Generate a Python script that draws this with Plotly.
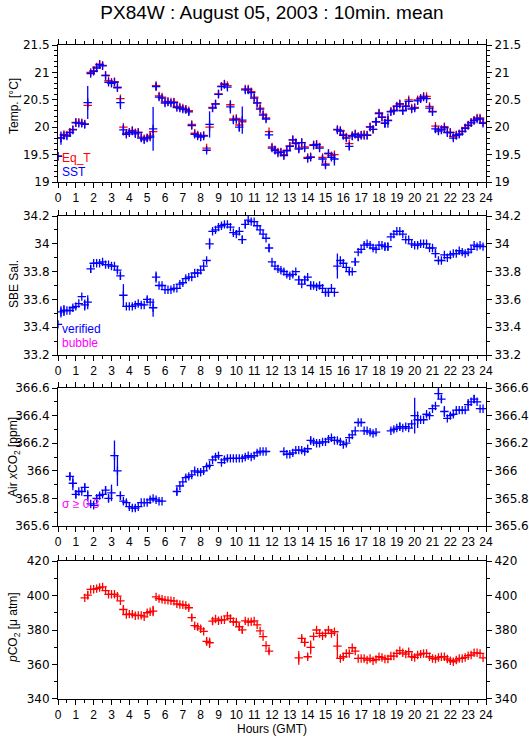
import plotly.graph_objects as go

# ---------------- data (10-minute means, k = 0..143) ----------------
hours = [k / 6 for k in range(144)]

sst = [
19.47,19.80,19.85,19.84,19.90,19.95,20.08,20.07,20.07,20.05,
20.45,20.98,21.02,21.08,21.14,21.12,20.94,20.82,20.80,20.82,
20.72,20.45,19.95,19.87,19.90,19.93,19.88,19.90,19.80,19.77,
19.80,19.82,19.97,20.74,20.55,20.53,20.44,20.46,20.44,20.45,
20.36,20.35,20.33,20.32,20.28,20.03,19.87,19.84,19.82,19.84,
19.58,20.05,20.35,20.42,20.60,20.74,20.78,20.73,20.37,20.13,
20.14,20.00,20.13,20.68,20.68,20.63,20.53,20.44,20.33,20.22,
20.15,19.86,19.62,19.58,19.53,19.54,19.48,19.57,19.65,19.77,
19.70,19.60,19.72,19.62,19.43,19.45,19.67,19.68,19.62,19.42,
19.31,19.52,19.45,19.42,19.95,19.93,19.85,19.80,19.65,19.84,
19.87,19.82,19.85,19.85,19.85,20.00,19.96,20.10,20.25,20.18,
20.07,20.12,20.28,20.30,20.38,20.42,20.30,20.38,20.47,20.33,
20.35,20.48,20.52,20.55,20.52,20.35,20.28,19.97,19.93,19.95,
19.99,19.90,19.90,19.80,19.85,19.87,19.92,19.98,20.03,20.08,
20.12,20.15,20.15,20.07]

eq_t = [
19.47,19.81,19.87,19.86,19.91,19.96,20.09,20.09,20.08,20.06,
20.40,21.00,21.03,21.10,21.15,21.13,20.95,20.85,20.82,20.83,
20.73,20.52,20.00,19.89,19.91,19.94,19.90,19.91,19.82,19.79,
19.81,19.84,19.92,20.76,20.57,20.55,20.46,20.47,20.46,20.46,
20.38,20.37,20.35,20.33,20.30,20.05,19.89,19.86,19.83,19.85,
19.62,20.00,20.36,20.43,20.61,20.75,20.79,20.76,20.41,20.15,
20.16,20.04,20.10,20.70,20.70,20.65,20.55,20.45,20.35,20.24,
20.17,19.92,19.64,19.59,19.55,19.55,19.50,19.58,19.66,19.77,
19.72,19.62,19.72,19.64,19.45,19.46,19.68,19.69,19.64,19.45,
19.33,19.52,19.48,19.50,19.96,19.94,19.87,19.82,19.70,19.85,
19.88,19.83,19.86,19.87,19.86,20.01,19.96,20.10,20.26,20.19,
20.08,20.13,20.29,20.31,20.39,20.43,20.31,20.39,20.50,20.35,
20.36,20.50,20.53,20.56,20.56,20.38,20.29,20.02,19.95,19.96,
20.01,19.91,19.91,19.83,19.86,19.88,19.93,19.99,20.04,20.09,
20.13,20.17,20.17,20.09]

sst_err = {1: 0.12, 10: 0.3, 21: 0.12, 22: 0.1, 32: 0.4, 33: 0.07, 44: 0.05,
           51: 0.24, 58: 0.12, 61: 0.08, 62: 0.25, 71: 0.07, 80: 0.08, 81: 0.06,
           89: 0.07, 93: 0.12, 94: 0.05, 98: 0.07, 107: 0.07, 110: 0.08,
           111: 0.13, 117: 0.08, 127: 0.08}

sal = [
33.42,33.51,33.52,33.52,33.52,33.54,33.55,33.57,33.62,33.56,
33.58,33.82,33.86,33.86,33.86,33.87,33.85,33.85,33.84,33.84,
33.81,33.77,33.63,33.55,33.55,33.55,33.56,33.57,33.56,33.56,
33.60,33.58,33.54,33.76,33.70,33.70,33.67,33.67,33.67,33.68,
33.68,33.71,33.72,33.75,33.76,33.76,33.79,33.79,33.81,33.84,
33.88,34.00,34.09,34.10,34.12,34.13,34.14,34.14,34.12,34.08,
34.07,34.09,34.03,34.14,34.17,34.16,34.16,34.13,34.10,34.07,
34.04,33.97,33.87,33.84,33.82,33.81,33.80,33.78,33.77,33.78,
33.80,33.74,33.71,33.74,33.76,33.70,33.70,33.69,33.70,33.68,
33.65,33.65,33.68,33.65,33.84,33.88,33.86,33.83,33.80,33.80,
33.87,33.94,33.96,33.99,34.00,33.99,33.97,33.96,33.99,33.99,
33.98,33.98,34.05,34.07,34.09,34.09,34.07,34.03,34.03,34.00,
33.99,33.99,34.00,34.00,34.00,33.97,33.97,33.93,33.88,33.88,
33.92,33.90,33.92,33.93,33.93,33.95,33.94,33.93,33.94,33.96,
33.99,33.98,33.99,33.98]

sal_err = {1: 0.04, 2: 0.04, 9: 0.04, 10: 0.05, 11: 0.03, 20: 0.02, 21: 0.03,
           22: 0.08, 30: 0.02, 32: 0.065, 33: 0.04, 51: 0.04, 62: 0.03, 63: 0.03,
           71: 0.03, 81: 0.03, 83: 0.03, 85: 0.03, 90: 0.02, 91: 0.03, 94: 0.09,
           98: 0.02, 100: 0.03, 110: 0.03, 111: 0.03, 121: 0.02, 127: 0.03}

xco2 = [
None,None,None,None,365.96,365.91,365.83,365.85,365.85,365.88,
365.82,365.76,365.75,365.80,365.82,365.83,365.86,365.80,365.84,366.11,
366.00,365.82,365.78,365.77,365.74,365.73,365.73,365.74,365.77,365.77,
365.77,365.79,365.80,365.79,365.78,365.78,None,None,None,None,
365.85,365.89,365.92,365.95,365.96,365.97,366.00,365.99,365.99,366.00,
366.03,366.04,366.08,366.10,366.11,366.06,366.08,366.09,366.09,366.09,
366.09,366.09,366.09,366.10,366.11,366.10,366.11,366.13,366.14,366.14,
366.14,None,None,None,None,None,366.14,366.12,366.12,366.13,
366.15,366.15,366.15,366.14,366.16,366.22,366.21,366.20,366.20,366.21,
366.21,366.23,366.24,366.22,366.22,366.21,366.19,366.20,366.24,366.26,
366.29,366.35,366.35,366.29,366.29,366.28,366.27,366.28,None,None,
None,None,366.29,366.30,366.31,366.32,366.31,366.32,366.31,366.34,
366.40,366.37,366.37,366.37,366.41,366.40,366.45,366.47,366.56,366.52,
366.43,366.38,366.40,366.41,366.44,366.44,366.44,366.44,366.48,366.50,
366.52,366.50,366.45,366.45]

xco2_err = {4: 0.03, 5: 0.05, 6: 0.03, 9: 0.03, 10: 0.04, 13: 0.03, 16: 0.03,
            17: 0.03, 18: 0.06, 19: 0.11, 20: 0.11, 21: 0.03, 26: 0.02, 40: 0.03,
            85: 0.03, 115: 0.03, 120: 0.13, 121: 0.06, 128: 0.04, 129: 0.03,
            130: 0.04, 138: 0.04, 140: 0.03}

pco2 = [
None,None,None,None,None,None,None,None,None,398.6,
400.2,403.5,403.6,404.0,404.6,405.0,402.8,400.7,400.7,400.7,
399.6,396.9,391.9,389.0,389.2,389.2,388.3,388.5,388.5,387.6,
390.0,390.6,391.0,399.2,398.2,397.8,397.3,397.2,397.0,396.7,
395.2,394.8,394.6,394.2,392.9,387.2,382.5,381.8,380.7,379.2,
373.4,372.6,385.2,386.4,385.4,385.9,385.9,388.2,386.7,384.8,
384.6,381.9,380.1,385.3,384.6,384.8,385.3,383.0,379.5,376.2,
371.0,367.8,None,None,None,None,None,None,None,None,
None,363.9,375.2,372.8,364.5,369.9,376.3,380.0,378.0,376.7,
378.0,380.0,378.0,379.0,370.7,363.5,364.5,366.4,366.4,369.7,
367.8,363.5,363.5,363.5,362.6,363.5,362.2,363.0,364.5,364.1,
363.2,363.2,364.9,364.9,366.4,368.0,366.8,366.0,367.4,364.5,
364.1,365.5,366.0,366.4,366.4,364.5,363.5,363.2,364.1,364.5,
364.5,363.2,362.2,361.6,362.6,363.5,363.5,364.1,365.1,365.5,
366.8,366.8,366.4,363.9]

pco2_err = {10: 2.5, 22: 2.5, 32: 3.0, 44: 1.5, 45: 2.0, 50: 2.5, 51: 3.0,
            52: 2.0, 61: 2.0, 62: 2.0, 71: 1.5, 81: 4.0, 82: 1.5, 83: 2.0,
            84: 1.5, 85: 4.0, 94: 7.3, 96: 1.5, 119: 1.5}

hour_ticks = list(range(0, 25))

# ---------------- styling ----------------
BLUE = "#0000ff"
RED = "#ff0000"
MAG = "#ff00ff"
FONT = "Liberation Sans, Arial, sans-serif"
YFONT = "DejaVu Sans, sans-serif"


def err_list(d, n):
    return [d.get(k, 0) for k in range(n)]


fig = go.Figure()


def add_series(y, errs, color, xa, ya):
    fig.add_trace(go.Scatter(
        x=hours, y=y, mode="markers", xaxis=xa, yaxis=ya,
        marker=dict(symbol="cross-thin", size=6, color=color,
                    line=dict(width=1.3, color=color)),
        error_y=dict(type="data", array=err_list(errs, len(y)), visible=True,
                     color=color, thickness=1.3, width=0),
        showlegend=False, hoverinfo="skip"))


add_series(eq_t, {}, RED, "x", "y")
add_series(sst, sst_err, BLUE, "x", "y")
add_series(sal, sal_err, BLUE, "x2", "y2")
add_series(xco2, xco2_err, BLUE, "x3", "y3")
add_series(pco2, pco2_err, RED, "x4", "y4")

# invisible anchor traces so right-hand axes render
ranges = {"y": [19, 21.5], "y2": [33.2, 34.2], "y3": [365.6, 366.6], "y4": [340, 420]}
for xa, ya, base in [("x", "y5", "y"), ("x2", "y6", "y2"), ("x3", "y7", "y3"), ("x4", "y8", "y4")]:
    fig.add_trace(go.Scatter(x=[0], y=[ranges[base][0]], xaxis=xa, yaxis=ya, mode="markers",
                             marker=dict(opacity=0), showlegend=False, hoverinfo="skip"))

domains = {"y": [0.7905, 1.0], "y2": [0.526, 0.7385], "y3": [0.2645, 0.4755], "y4": [0.0, 0.211]}
dticks = {"y": (0.5, 0.1), "y2": (0.2, 0.1), "y3": (0.2, 0.1), "y4": (20, 10)}

xcommon = dict(range=[0, 24], tickmode="array", tickvals=hour_ticks, automargin=False,
               ticks="outside", ticklen=5, tickwidth=1, tickcolor="black",
               minor=dict(dtick=0.5, tick0=0, ticks="outside", ticklen=3, tickcolor="black"),
               showline=True, linecolor="black", linewidth=1, mirror="ticks",
               showgrid=False, zeroline=False,
               tickfont=dict(family=FONT, size=12, color="black"))

layout = dict(width=529, height=739, margin=dict(l=58, r=43, t=45, b=40),
              paper_bgcolor="white", plot_bgcolor="white", showlegend=False,
              title=dict(text="PX84W : August 05, 2003 : 10min. mean", x=0.5, xanchor="center",
                         xref="paper", y=1 - 12 / 739, yanchor="middle",
                         font=dict(family=FONT, size=19, color="black")))

for i, base in enumerate(["y", "y2", "y3", "y4"]):
    xname = "xaxis" if i == 0 else "xaxis%d" % (i + 1)
    yname = "yaxis" if i == 0 else "yaxis%d" % (i + 1)
    xa = "x" if i == 0 else "x%d" % (i + 1)
    rname = "yaxis%d" % (i + 5)
    d = dict(xcommon)
    d["anchor"] = base
    layout[xname] = d
    major, minor = dticks[base]
    ycommon = dict(range=ranges[base], domain=domains[base], dtick=major, tick0=0,
                   automargin=False,
                   ticks="outside", ticklen=5, tickwidth=1, tickcolor="black",
                   minor=dict(dtick=minor, ticks="outside", ticklen=3, tickcolor="black"),
                   showline=True, linecolor="black", linewidth=1,
                   showgrid=False, zeroline=False,
                   tickfont=dict(family=YFONT, size=12, color="black"))
    left = dict(ycommon)
    left["anchor"] = xa
    layout[yname] = left
    right = dict(ycommon)
    right.update(anchor=xa, overlaying=base, side="right")
    layout[rname] = right

fig.update_layout(**layout)

# ---------------- text ----------------
ann = []
ytitles = [("Temp. [°C]", 106), ("SBE Sal.", 284), ("Air <i>x</i>CO<sub>2</sub> [ppm]", 457),
           ("<i>p</i>CO<sub>2</sub> [μ atm]", 628)]
for txt, ypx in ytitles:
    ann.append(dict(text=txt, xref="paper", yref="paper", x=(14 - 58) / 428, y=(699 - ypx) / 654,
                    xanchor="center", yanchor="middle", textangle=-90, showarrow=False,
                    font=dict(family=FONT, size=12, color="black")))

labels = [("Eq_T", RED, 158), ("SST", BLUE, 172), ("verified", BLUE, 329), ("bubble", MAG, 343),
          ("σ ≥ 0.3", MAG, 504)]
for txt, col, ypx in labels:
    ann.append(dict(text=txt, xref="paper", yref="paper", x=(60 - 58) / 428, y=(699 - ypx) / 654,
                    xanchor="left", yanchor="middle", showarrow=False,
                    font=dict(family=FONT, size=12, color=col)))

ann.append(dict(text="Hours (GMT)", xref="paper", yref="paper", x=(272 - 58) / 428,
                y=(699 - 729) / 654, xanchor="center", yanchor="middle", showarrow=False,
                font=dict(family=FONT, size=12, color="black")))

fig.update_layout(annotations=ann)

fig.write_html("out.html", config={"displayModeBar": False},
               post_script="document.body.style.margin='0px';")
